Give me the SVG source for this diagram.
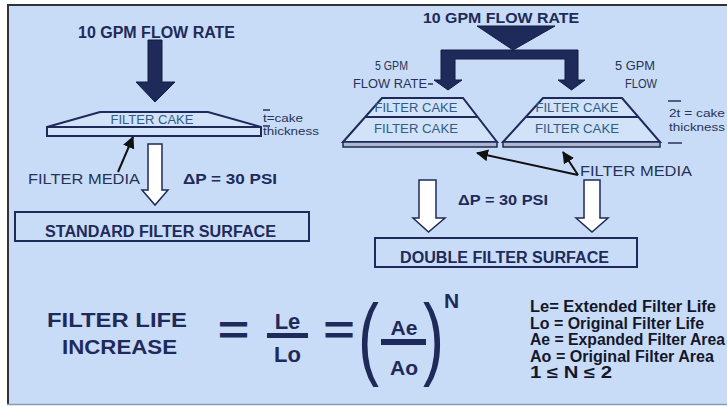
<svg xmlns="http://www.w3.org/2000/svg" width="727" height="407" viewBox="0 0 727 407">
<defs>
<style>
.b{font-family:"Liberation Sans",Arial,sans-serif;font-weight:bold;fill:#1e2a5a}
.p{font-family:"Liberation Sans",Arial,sans-serif;font-weight:normal;fill:#1e2a5a;font-size:90px}
.n{font-family:"Liberation Sans",Arial,sans-serif;fill:#263358}
.ck{font-family:"Liberation Sans",Arial,sans-serif;fill:#2e5d8c;font-size:12px}
.lg{font-family:"Liberation Sans",Arial,sans-serif;font-weight:bold;fill:#14172a;font-size:16px}
.fill{fill:#1e2a5a;stroke:#121b40;stroke-width:1}
.white{fill:#ffffff;stroke:#1e2a5a;stroke-width:1.5}
.cake{fill:#d2e2f8;stroke:#1e2a5a;stroke-width:2}
.media{fill:#aeb8cc;stroke:#1e2a5a;stroke-width:1.5}
.box{fill:none;stroke:#1e2a5a;stroke-width:2}
.ptr{fill:none;stroke:#111;stroke-width:2;marker-end:url(#ah)}
.tick{stroke:#263358;stroke-width:1.5}
</style>
<marker id="ah" markerUnits="userSpaceOnUse" markerWidth="14" markerHeight="12" refX="11" refY="6" orient="auto">
<path d="M0,0 L12,6 L0,12 Z" fill="#111"/>
</marker>
</defs>

<rect x="0" y="0" width="727" height="407" fill="#ffffff"/>
<rect x="7" y="5" width="725" height="399" fill="#c9dcf7"/>
<line x1="7" y1="5" x2="727" y2="5" stroke="#333" stroke-width="2"/>
<line x1="8" y1="5" x2="8" y2="404" stroke="#333" stroke-width="2"/>
<line x1="7" y1="404.5" x2="727" y2="404.5" stroke="#8a9ab5" stroke-width="1.5"/>

<g id="connectors">
<path class="fill" d="M148,40 H162 V82 H175 L155,102 L136,82 H148 Z"/>
<path class="white" d="M148,144 H162 V190 H168 L155,205 L142,190 H148 Z"/>
<line class="ptr" x1="118" y1="172" x2="133" y2="137"/>
<path class="fill" d="M477,26 H555 L513,50 Z"/>
<path class="fill" d="M441,50 H578 V80 H585 L571.5,90 L558,80 H565 V59 H455 V80 H462 L448,90 L434,80 H441 Z"/>
<line x1="428" y1="84" x2="433" y2="84" stroke="#263358" stroke-width="1.5"/>
<path class="white" d="M419,180 H436 V218 H445 L428.5,232 L413,218 H419 Z"/>
<path class="white" d="M584,180 H600 V218 H608 L592,232 L576,218 H584 Z"/>
<line class="ptr" x1="578" y1="175" x2="477" y2="153"/>
<line class="ptr" x1="578" y1="175" x2="563" y2="152"/>
</g>

<g id="left-title"><text class="b" x="78" y="38" font-size="16" textLength="157" lengthAdjust="spacingAndGlyphs">10 GPM FLOW RATE</text></g>

<g id="left-filter">
<path class="cake" d="M47,127 L100,112 H208 L261,127 Z"/>
<rect class="cake" x="47" y="127" width="214" height="9"/>
<text class="ck" x="152" y="123.5" font-size="11" text-anchor="middle" textLength="83" lengthAdjust="spacingAndGlyphs">FILTER CAKE</text>
</g>

<g id="left-thickness">
<line class="tick" x1="263" y1="110" x2="270" y2="110"/>
<line class="tick" x1="263" y1="126" x2="270" y2="126"/>
<text class="n" x="263" y="122" font-size="10" textLength="40" lengthAdjust="spacingAndGlyphs">t=cake</text>
<text class="n" x="263" y="135" font-size="10" textLength="56" lengthAdjust="spacingAndGlyphs">thickness</text>
</g>

<g id="left-media-label"><text class="n" x="28" y="184" font-size="14" textLength="112" lengthAdjust="spacingAndGlyphs">FILTER MEDIA</text></g>
<g id="left-dp"><text class="b" x="183" y="184" font-size="15" textLength="94" lengthAdjust="spacingAndGlyphs">ΔP = 30 PSI</text></g>

<g id="standard-surface">
<rect class="box" x="15" y="212" width="294" height="29"/>
<text class="b" x="45" y="237" font-size="16" textLength="231" lengthAdjust="spacingAndGlyphs">STANDARD FILTER SURFACE</text>
</g>

<g id="right-title"><text class="b" x="423" y="23" font-size="15" textLength="156" lengthAdjust="spacingAndGlyphs">10 GPM FLOW RATE</text></g>

<g id="left-branch-label">
<text class="n" x="375" y="70" font-size="12" textLength="33" lengthAdjust="spacingAndGlyphs">5 GPM</text>
<text class="n" x="353" y="88" font-size="12" textLength="74" lengthAdjust="spacingAndGlyphs">FLOW RATE</text>
</g>
<g id="right-branch-label">
<text class="n" x="615" y="70" font-size="12" textLength="40" lengthAdjust="spacingAndGlyphs">5 GPM</text>
<text class="n" x="625" y="88" font-size="12" textLength="32" lengthAdjust="spacingAndGlyphs">FLOW</text>
</g>

<g id="double-filter-left">
<path class="cake" d="M343,142 L382,98 H463 L497,142 Z"/>
<line x1="365" y1="117" x2="478" y2="117" stroke="#1e2a5a" stroke-width="2"/>
<rect class="media" x="343" y="142" width="154" height="5"/>
<text class="ck" x="416" y="112" text-anchor="middle" textLength="83" lengthAdjust="spacingAndGlyphs">FILTER CAKE</text>
<text class="ck" x="416" y="133" text-anchor="middle" textLength="84" lengthAdjust="spacingAndGlyphs">FILTER CAKE</text>
</g>

<g id="double-filter-right">
<path class="cake" d="M503,142 L543,98 H622 L660,142 Z"/>
<line x1="526" y1="117" x2="638" y2="117" stroke="#1e2a5a" stroke-width="2"/>
<rect class="media" x="503" y="142" width="157" height="5"/>
<text class="ck" x="577" y="112" text-anchor="middle" textLength="83" lengthAdjust="spacingAndGlyphs">FILTER CAKE</text>
<text class="ck" x="577" y="133" text-anchor="middle" textLength="84" lengthAdjust="spacingAndGlyphs">FILTER CAKE</text>
</g>

<g id="right-thickness">
<line class="tick" x1="668" y1="101" x2="681" y2="101"/>
<line class="tick" x1="668" y1="143" x2="682" y2="143"/>
<text class="n" x="669" y="117" font-size="11" textLength="56" lengthAdjust="spacingAndGlyphs">2t = cake</text>
<text class="n" x="669" y="131" font-size="11" textLength="56" lengthAdjust="spacingAndGlyphs">thickness</text>
</g>

<g id="right-media-label"><text class="n" x="580" y="176" font-size="14" textLength="112" lengthAdjust="spacingAndGlyphs">FILTER MEDIA</text></g>
<g id="right-dp"><text class="b" x="458" y="205" font-size="15" textLength="90" lengthAdjust="spacingAndGlyphs">ΔP = 30 PSI</text></g>

<g id="double-surface">
<rect class="box" x="375" y="238" width="262" height="29"/>
<text class="b" x="400" y="263" font-size="16" textLength="209" lengthAdjust="spacingAndGlyphs">DOUBLE FILTER SURFACE</text>
</g>

<g id="formula">
<text class="b" x="47" y="327" font-size="21" textLength="140" lengthAdjust="spacingAndGlyphs">FILTER LIFE</text>
<text class="b" x="62" y="354" font-size="21" textLength="115" lengthAdjust="spacingAndGlyphs">INCREASE</text>
<text class="b" transform="translate(233.5,344) scale(1.35,1)" x="0" y="0" font-size="40" text-anchor="middle">=</text>
<text class="b" x="287.5" y="329" font-size="22" text-anchor="middle">Le</text>
<rect x="267" y="333" width="41" height="5" fill="#1e2a5a"/>
<text class="b" x="287.5" y="362" font-size="22" text-anchor="middle">Lo</text>
<text class="b" transform="translate(339,344) scale(1.35,1)" x="0" y="0" font-size="40" text-anchor="middle">=</text>
<text class="p" transform="translate(358,368) scale(0.7,1)" x="0" y="0">(</text>
<text class="b" x="404" y="335" font-size="21" text-anchor="middle">Ae</text>
<rect x="381" y="339" width="45" height="6" fill="#1e2a5a"/>
<text class="b" x="404" y="375" font-size="21" text-anchor="middle">Ao</text>
<text class="p" transform="translate(423,368) scale(0.7,1)" x="0" y="0">)</text>
<text class="b" x="444" y="308" font-size="21">N</text>
</g>

<g id="legend">
<text class="lg" x="530" y="312" textLength="186" lengthAdjust="spacingAndGlyphs">Le= Extended Filter Life</text>
<text class="lg" x="530" y="328.5" textLength="174" lengthAdjust="spacingAndGlyphs">Lo = Original Filter Life</text>
<text class="lg" x="530" y="345" textLength="195" lengthAdjust="spacingAndGlyphs">Ae = Expanded Filter Area</text>
<text class="lg" x="530" y="361.5" textLength="184" lengthAdjust="spacingAndGlyphs">Ao = Original Filter Area</text>
<text class="lg" x="530" y="378" textLength="82" lengthAdjust="spacingAndGlyphs">1 ≤ N ≤ 2</text>
</g>
</svg>
